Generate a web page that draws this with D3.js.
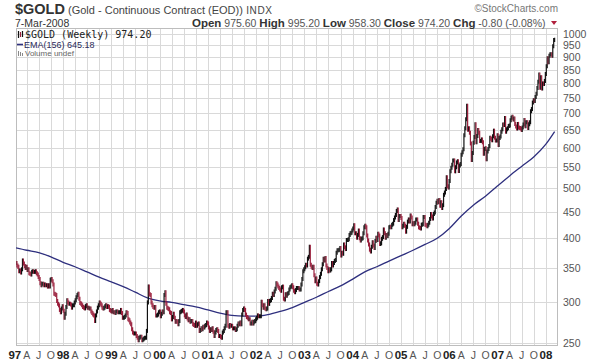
<!DOCTYPE html>
<html>
<head>
<meta charset="utf-8">
<script src="https://cdn.jsdelivr.net/npm/d3@7"></script>
<style>
  body { margin: 0; background: #fff; }
  svg { display: block; font-family: "Liberation Sans", Arial, sans-serif; }
</style>
</head>
<body>
<div id="chart"></div>
<script>
// weekly closes ($GOLD), one array per year, Friday weeks
const gold1997 = [358, 354, 352, 345, 346, 343, 348, 362, 357, 353, 350, 352, 347, 348, 342, 341, 340, 344, 345, 344, 344, 345, 342, 340, 336, 333, 327, 324, 326, 326, 324, 325, 324, 324, 322, 324, 322, 332, 333, 330, 325, 312, 311, 310, 302, 298, 296, 290, 287, 292, 295];
const gold1998 = [289, 280, 285, 294, 303, 300, 298, 298, 297, 293, 296, 296, 300, 303, 307, 310, 312, 305, 299, 298, 296, 294, 293, 292, 295, 296, 293, 293, 292, 292, 288, 286, 284, 283, 276, 283, 288, 293, 296, 300, 298, 296, 293, 292, 293, 295, 296, 294, 295, 294, 290, 289];
const gold1999 = [288, 290, 287, 287, 286, 288, 288, 287, 287, 287, 290, 286, 280, 280, 281, 283, 287, 286, 278, 277, 274, 272, 266, 262, 261, 261, 261, 258, 256, 253, 256, 257, 257, 253, 254, 255, 256, 256, 264, 300, 322, 311, 310, 300, 296, 294, 293, 294, 283, 283, 284, 287, 288];
const gold2000 = [282, 285, 288, 287, 310, 314, 298, 293, 292, 291, 287, 286, 278, 281, 285, 280, 275, 276, 275, 272, 276, 287, 288, 289, 290, 288, 283, 281, 284, 279, 277, 278, 275, 276, 276, 272, 271, 270, 274, 270, 272, 273, 264, 265, 267, 266, 269, 268, 270, 271, 274, 273];
const gold2001 = [268, 264, 266, 265, 267, 263, 258, 262, 265, 266, 264, 258, 258, 257, 256, 262, 264, 267, 270, 287, 287, 270, 269, 271, 270, 270, 267, 267, 267, 265, 266, 270, 273, 272, 274, 272, 284, 290, 292, 290, 284, 281, 280, 278, 278, 273, 273, 275, 273, 275, 276, 278];
const gold2002 = [280, 283, 282, 282, 282, 301, 296, 293, 296, 292, 291, 292, 302, 298, 302, 303, 306, 312, 310, 315, 319, 327, 325, 322, 320, 318, 316, 321, 322, 305, 304, 311, 309, 312, 313, 318, 321, 322, 324, 321, 316, 314, 317, 320, 320, 320, 318, 318, 325, 333, 345, 348];
const gold2003 = [351, 355, 354, 365, 368, 385, 355, 352, 350, 352, 339, 330, 334, 326, 325, 330, 336, 341, 348, 356, 365, 362, 366, 354, 350, 345, 348, 346, 348, 358, 354, 358, 361, 363, 375, 379, 379, 380, 383, 370, 375, 373, 389, 384, 381, 397, 397, 398, 406, 409, 410, 414];
const gold2004 = [418, 424, 409, 409, 401, 406, 414, 400, 396, 399, 400, 409, 420, 423, 420, 405, 396, 389, 380, 377, 385, 393, 387, 383, 395, 401, 397, 408, 405, 390, 391, 399, 402, 416, 409, 401, 406, 404, 408, 420, 421, 420, 425, 427, 434, 439, 444, 452, 455, 434, 442, 442, 438];
const gold2005 = [420, 423, 427, 423, 412, 421, 431, 435, 431, 443, 439, 426, 428, 426, 429, 435, 435, 427, 420, 419, 418, 425, 426, 440, 440, 425, 424, 422, 425, 429, 436, 446, 441, 437, 446, 449, 460, 469, 473, 470, 475, 463, 470, 458, 464, 486, 491, 499, 526, 505, 502, 517];
const gold2006 = [540, 549, 556, 567, 567, 540, 550, 562, 565, 541, 554, 558, 582, 588, 596, 635, 655, 682, 725, 651, 655, 642, 612, 568, 586, 614, 630, 667, 615, 633, 650, 642, 619, 619, 623, 615, 584, 597, 599, 570, 590, 597, 605, 628, 625, 621, 632, 648, 628, 620, 620, 635];
const gold2007 = [608, 627, 631, 645, 652, 666, 665, 686, 645, 652, 655, 662, 663, 679, 687, 690, 681, 684, 668, 660, 654, 668, 657, 656, 654, 650, 657, 666, 680, 661, 673, 673, 656, 667, 673, 707, 714, 735, 743, 740, 754, 765, 785, 807, 834, 786, 823, 783, 801, 799, 810, 836];
const gold2008 = [865, 897, 881, 907, 913, 913, 907, 946, 973, 974.2];

// EMA(156)
const emaDates = ['1997-01-10', '1997-04-01', '1997-07-01', '1997-10-01',
  '1998-01-01', '1998-04-01', '1998-07-01', '1998-10-01',
  '1999-01-01', '1999-04-01', '1999-07-01', '1999-10-01',
  '2000-01-01', '2000-04-01', '2000-07-01', '2000-10-01',
  '2001-01-01', '2001-04-01', '2001-07-01', '2001-10-01',
  '2002-01-01', '2002-04-01', '2002-07-01', '2002-10-01',
  '2003-01-01', '2003-04-01', '2003-07-01', '2003-10-01',
  '2004-01-01', '2004-04-01', '2004-07-01', '2004-10-01',
  '2005-01-01', '2005-04-01', '2005-07-01', '2005-10-01',
  '2006-01-01', '2006-04-01', '2006-07-01', '2006-10-01',
  '2007-01-01', '2007-04-01', '2007-07-01', '2007-10-01',
  '2008-01-01', '2008-03-07'];
const emaValues = [383, 379, 375, 368,
  359, 352, 344, 336,
  329, 322, 314, 306,
  302, 300, 297, 294,
  290, 286, 283, 282,
  282, 284, 288, 293,
  300, 307, 315, 323,
  333, 344, 352, 361,
  370, 379, 389, 400,
  418, 442, 464, 483,
  506, 529, 552, 576,
  610, 645.18];

const priceTicks = [250, 300, 350, 400, 450, 500, 550, 600, 650, 700, 750, 800, 850, 900, 950, 1000];
const monthLetters = { 3: 'A', 6: 'J', 9: 'O' };

const width = 600, height = 364;
const plot = { left: 16, right: 557, top: 28, bottom: 345 };
const upColor = '#111', downColor = '#9a1f3c', emaColor = '#2e2f7e';

const svg = d3.select('#chart').append('svg')
  .attr('width', width)
  .attr('height', height);

// build weekly bars
const years = [[1997, gold1997], [1998, gold1998], [1999, gold1999], [2000, gold2000],
  [2001, gold2001], [2002, gold2002], [2003, gold2003], [2004, gold2004],
  [2005, gold2005], [2006, gold2006], [2007, gold2007], [2008, gold2008]];
const bars = [];
years.forEach(([yr, vals]) => {
  let fridays = d3.timeFriday.range(new Date(yr, 0, 1), new Date(yr + 1, 0, 1));
  if (yr === 1997) fridays = fridays.filter(d => d >= new Date(1997, 0, 10));
  vals.forEach((v, i) => bars.push({ date: fridays[i], close: v }));
});
bars.forEach((b, i) => { b.prev = i ? bars[i - 1].close : b.close; });

const x = d3.scaleTime()
  .domain([new Date(1997, 0, 10), new Date(2008, 2, 25)])
  .range([plot.left, plot.right]);

const y = d3.scaleLog()
  .domain([247.8, 1027])
  .range([plot.bottom, plot.top]);

// grid
const quarters = d3.timeMonth.every(3).range(new Date(1997, 0, 1), new Date(2008, 3, 1));
svg.append('g').selectAll('line')
  .data(quarters.filter(d => x(d) > plot.left && x(d) < plot.right))
  .enter().append('line')
  .attr('x1', d => Math.round(x(d)) + 0.5).attr('x2', d => Math.round(x(d)) + 0.5)
  .attr('y1', plot.top).attr('y2', plot.bottom)
  .attr('stroke', '#d9d9d9');

svg.append('g').selectAll('line')
  .data(priceTicks)
  .enter().append('line')
  .attr('x1', plot.left).attr('x2', plot.right)
  .attr('y1', d => Math.round(y(d)) + 0.5).attr('y2', d => Math.round(y(d)) + 0.5)
  .attr('stroke', '#d9d9d9');

svg.append('rect')
  .attr('x', plot.left + 0.5).attr('y', plot.top + 0.5)
  .attr('width', plot.right - plot.left).attr('height', plot.bottom - plot.top)
  .attr('fill', 'none').attr('stroke', '#bdbdbd');

// right axis labels
svg.append('g').selectAll('text')
  .data(priceTicks)
  .enter().append('text')
  .attr('x', 563).attr('y', d => y(d)).attr('dy', '0.35em')
  .attr('font-size', 10.5).attr('fill', '#555')
  .text(d => d);

// bottom axis labels
svg.append('g').selectAll('text')
  .data(quarters)
  .enter().append('text')
  .attr('x', d => x(d)).attr('y', 359)
  .attr('text-anchor', 'middle')
  .attr('font-size', d => d.getMonth() === 0 ? 11.5 : 10.5)
  .attr('font-weight', d => d.getMonth() === 0 ? 'bold' : 'normal')
  .attr('fill', d => d.getMonth() === 0 ? '#222' : '#555')
  .text(d => d.getMonth() === 0 ? d3.timeFormat('%y')(d) : monthLetters[d.getMonth()]);

// price bars
svg.append('clipPath').attr('id', 'plotclip')
  .append('rect').attr('x', plot.left).attr('y', plot.top)
  .attr('width', plot.right - plot.left).attr('height', plot.bottom - plot.top);

const chartG = svg.append('g').attr('clip-path', 'url(#plotclip)');

chartG.append('path')
  .datum(emaDates.map((d, i) => ({ date: d3.timeParse('%Y-%m-%d')(d), v: emaValues[i] })))
  .attr('fill', 'none').attr('stroke', emaColor).attr('stroke-width', 1.3)
  .attr('d', d3.line().x(d => x(d.date)).y(d => y(d.v)).curve(d3.curveMonotoneX));

chartG.selectAll('.bar')
  .data(bars)
  .enter().append('line')
  .attr('class', 'bar')
  .attr('x1', d => x(d.date)).attr('x2', d => x(d.date))
  .attr('y1', d => y(Math.max(d.prev, d.close)) - 2)
  .attr('y2', d => y(Math.min(d.prev, d.close)) + 2)
  .attr('stroke', d => d.close >= d.prev ? upColor : downColor)
  .attr('stroke-width', 1.2);

// header
const title = svg.append('text').attr('x', 15).attr('y', 14).attr('fill', '#333');
title.append('tspan').attr('font-size', 14.5).attr('font-weight', 'bold').text('$GOLD');
title.append('tspan').attr('font-size', 11).attr('fill', '#444').text(' (Gold - Continuous Contract (EOD))');
title.append('tspan').attr('font-size', 10).attr('fill', '#444').attr('letter-spacing', 0.6).text(' INDX');

svg.append('text').attr('x', 15).attr('y', 27)
  .attr('font-size', 10.5).attr('fill', '#333').text('7-Mar-2008');

const quote = svg.append('text').attr('x', 192).attr('y', 27).attr('fill', '#333');
[['Open', ' 975.60 '], ['High', ' 995.20 '], ['Low', ' 958.30 '], ['Close', ' 974.20 '], ['Chg', ' -0.80 (-0.08%)']]
  .forEach(([k, v]) => {
    quote.append('tspan').attr('font-size', 11.5).attr('font-weight', 'bold').text(k);
    quote.append('tspan').attr('font-size', 10.5).attr('fill', '#555').text(v);
  });
svg.append('path').attr('d', 'M551,21 L557,21 L554,25 Z').attr('fill', '#b0203c');

svg.append('text').attr('x', 558).attr('y', 12).attr('text-anchor', 'end')
  .attr('font-size', 10).attr('fill', '#777').text('\u00a9StockCharts.com');

// legend
const lg = svg.append('g');
lg.append('line').attr('x1', 18.5).attr('x2', 18.5).attr('y1', 31).attr('y2', 38).attr('stroke', upColor).attr('stroke-width', 1.2);
lg.append('line').attr('x1', 20.5).attr('x2', 20.5).attr('y1', 32).attr('y2', 37).attr('stroke', downColor).attr('stroke-width', 1.2);
lg.append('line').attr('x1', 22.5).attr('x2', 22.5).attr('y1', 31).attr('y2', 37).attr('stroke', upColor).attr('stroke-width', 1.2);
lg.append('text').attr('x', 25).attr('y', 38)
  .attr('font-family', '"DejaVu Sans Mono", monospace').attr('font-size', 10).attr('fill', '#222')
  .text('$GOLD (Weekly) 974.20');
lg.append('line').attr('x1', 17).attr('x2', 23).attr('y1', 44.5).attr('y2', 44.5).attr('stroke', emaColor).attr('stroke-width', 1.6);
lg.append('text').attr('x', 24).attr('y', 48)
  .attr('font-size', 9).attr('fill', '#2a2a5a').text('EMA(156) 645.18');
[0, 2, 4].forEach((o, i) => lg.append('line')
  .attr('x1', 18.5 + o).attr('x2', 18.5 + o).attr('y1', 56).attr('y2', 51 + i)
  .attr('stroke', '#888'));
lg.append('text').attr('x', 25).attr('y', 56)
  .attr('font-size', 8).attr('fill', '#666').text('Volume undef');
</script>
</body>
</html>
